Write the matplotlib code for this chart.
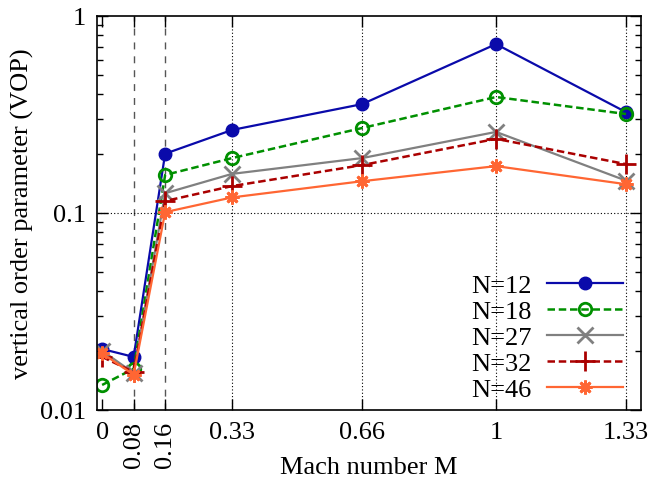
import matplotlib.pyplot as plt
from matplotlib.ticker import LogLocator, NullFormatter, FixedLocator

plt.rcParams['font.family'] = ['Liberation Serif', 'DejaVu Serif']

# Data
mach = [0, 0.08, 0.16, 0.33, 0.66, 1, 1.33]
tick_labels = ['0', '0.08', '0.16', '0.33', '0.66', '1', '1.33']
vop_n12 = [0.0204, 0.0186, 0.200, 0.264, 0.357, 0.72, 0.325]
vop_n18 = [0.0134, 0.0162, 0.156, 0.190, 0.270, 0.388, 0.318]
vop_n27 = [0.0200, 0.0154, 0.126, 0.158, 0.190, 0.258, 0.146]
vop_n32 = [0.0186, 0.0156, 0.115, 0.137, 0.175, 0.238, 0.177]
vop_n46 = [0.0194, 0.0151, 0.101, 0.120, 0.145, 0.173, 0.140]

fs = 19

fig = plt.figure(figsize=(6.53, 4.89), dpi=100)
ax = fig.add_axes([97/653, 1 - 411/489, (641-97)/653, (411-17)/489])

# grid lines (gnuplot style)
for xv in [0.08, 0.16]:
    ax.axvline(xv, color='#555555', ls=(0, (5, 5)), lw=1.0, zorder=0)
for xv in [0.33, 0.66, 1, 1.33]:
    ax.axvline(xv, color='black', ls=(0, (1, 2)), lw=0.8, zorder=0)
ax.axhline(0.1, color='black', ls=(0, (1, 2)), lw=0.8, zorder=0)

ax.plot(mach, vop_n12, color='#0a0aaa', lw=1.6, marker='o', ms=9, label='N=12')
ax.plot(mach, vop_n18, color='#009000', lw=1.8, ls=(0, (3, 1.5)), marker='o', ms=9,
        mfc='none', mew=2, label='N=18')
ax.plot(mach, vop_n27, color='#808080', lw=1.6, marker='x', ms=11, mew=2, label='N=27')
ax.plot(mach, vop_n32, color='#aa0000', lw=1.8, ls=(0, (3, 1.5)), marker='+', ms=15,
        mew=2, label='N=32')
ax.plot(mach, vop_n46, color='#ff6633', lw=1.6, marker=(8, 2, 0), ms=10, mew=2,
        label='N=46')

ax.set_yscale('log')
ax.set_ylim(0.01, 1)
ax.set_xlim(-0.013, 1.368)

ax.xaxis.set_major_locator(FixedLocator(mach))
ax.set_xticklabels(tick_labels, fontsize=fs)
for lbl, t in zip(ax.get_xticklabels(), tick_labels):
    if t in ('0.08', '0.16'):
        lbl.set_rotation(90)
ax.set_yticks([0.01, 0.1, 1])
ax.set_yticklabels(['0.01', '0.1', '1'], fontsize=fs)
ax.yaxis.set_minor_locator(LogLocator(subs=range(2, 10)))
ax.yaxis.set_minor_formatter(NullFormatter())

ax.tick_params(which='both', direction='in', top=True, right=True, width=1)
ax.tick_params(which='major', length=8, pad=8)
ax.tick_params(which='minor', length=4)
for s in ax.spines.values():
    s.set_linewidth(1.2)

ax.set_xlabel('Mach number M', fontsize=fs, labelpad=-8)
ax.set_ylabel('vertical order parameter (VOP)', fontsize=fs, labelpad=4)

leg = ax.legend(loc='lower right', bbox_to_anchor=(1.0, -0.025), markerfirst=False,
                frameon=False, fontsize=fs, handlelength=2.85, labelspacing=0.1,
                borderpad=0.2, handletextpad=0.6)

fig.savefig('out.png', dpi=100)
